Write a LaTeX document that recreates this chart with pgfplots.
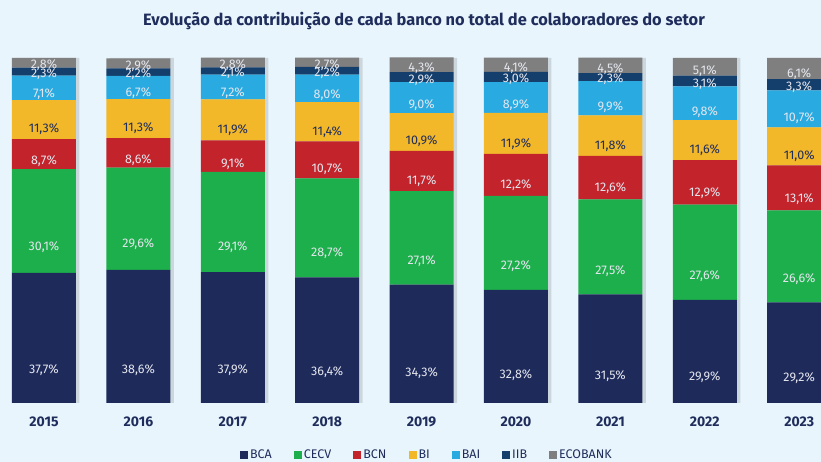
\documentclass[border=0pt]{standalone}
\usepackage{fontspec}
\setmainfont{Fira Sans}
\usepackage{pgfplots}
\usepackage{pgfplotstable}
\pgfplotsset{compat=1.18}

\definecolor{bgcol}{HTML}{E9F5FC}
\definecolor{navy}{HTML}{1F2D5C}
\definecolor{cBCA}{HTML}{1E2A5A}
\definecolor{cCECV}{HTML}{1DAF4B}
\definecolor{cBCN}{HTML}{C3232B}
\definecolor{cBI}{HTML}{F2B82A}
\definecolor{cBAI}{HTML}{29ABE2}
\definecolor{cIIB}{HTML}{143E6B}
\definecolor{cECO}{HTML}{7F7F7F}
\definecolor{lbl}{HTML}{E4E6EE}

% shares of each bank, in %
\pgfplotstableread{
x BCA CECV BCN BI BAI IIB ECO tot
0 37.7 30.1 8.7 11.3 7.1 2.3 2.8 100
1 38.6 29.6 8.6 11.3 6.7 2.2 2.9 100
2 37.9 29.1 9.1 11.9 7.2 2.1 2.8 100
3 36.4 28.7 10.7 11.4 8.0 2.2 2.7 100
4 34.3 27.1 11.7 10.9 9.0 2.9 4.3 100
5 32.8 27.2 12.2 11.9 8.9 3.0 4.1 100
6 31.5 27.5 12.6 11.8 9.9 2.3 4.5 100
7 29.9 27.6 12.9 11.6 9.8 3.1 5.1 100
8 29.2 26.6 13.1 11.0 10.7 3.3 6.1 100
}\data

\pgfplotsset{
  base/.style={at={(0pt,59pt)}, anchor=south west, scale only axis,
    width=821pt, height=348.45pt, xmin=-0.466, xmax=8.231, ymin=0, ymax=101,
    axis line style={draw=none}, ytick=\empty, major tick length=0pt,
    bar width=64pt},
  % the style gets applied twice, hence half of the half-segment shift
  seg/.style n args={2}{fill=#1, draw=none,
    point meta=explicit symbolic,
    nodes near coords={\pgfmathprintnumber[fixed,fixed zerofill,precision=1,use comma,assume math mode=true]{\pgfplotspointmeta}\%},
    every node near coord/.style={text=#2, anchor=center, inner sep=0pt,
      font=\fontsize{12.5}{13}\selectfont, yshift=-0.8625pt*\pgfplotspointmeta}},
}

\begin{document}
\begin{tikzpicture}[x=1pt,y=1pt]
\fill[bgcol] (0,0) rectangle (821,462);
\useasboundingbox (0,0) rectangle (821,462);
\node[font=\bfseries\fontsize{16.4}{18}\selectfont, text=navy] at (424,441)
  {Evolução da contribuição de cada banco no total de colaboradores do setor};

% soft shadow behind the bars
\begin{axis}[base, ybar, bar shift=3.5pt, xtick=\empty]
\addplot[fill=black, draw=none, opacity=0.12] table[x=x,y=tot]{\data};
\end{axis}

\begin{axis}[base, ybar stacked,
    xtick={0,...,8}, xticklabels={2015,2016,2017,2018,2019,2020,2021,2022,2023},
    xticklabel style={font=\bfseries\fontsize{14}{15}\selectfont, text=navy, yshift=-10pt},
    legend columns=-1,
    legend style={draw=none, fill=none, at={(0.52,-0.149)}, anchor=center,
      font=\fontsize{12.5}{14}\selectfont, text=navy,
      /tikz/every even column/.append style={column sep=20pt}},
    legend image code/.code={\fill[#1] (0pt,-4pt) rectangle (8pt,4pt);}]
\addplot[seg={cBCA}{lbl}] table[x=x,y=BCA,meta=BCA]{\data};
\addplot[seg={cCECV}{lbl}] table[x=x,y=CECV,meta=CECV]{\data};
\addplot[seg={cBCN}{lbl}] table[x=x,y=BCN,meta=BCN]{\data};
\addplot[seg={cBI}{navy}] table[x=x,y=BI,meta=BI]{\data};
\addplot[seg={cBAI}{lbl}] table[x=x,y=BAI,meta=BAI]{\data};
\addplot[seg={cIIB}{lbl}] table[x=x,y=IIB,meta=IIB]{\data};
\addplot[seg={cECO}{lbl}] table[x=x,y=ECO,meta=ECO]{\data};
\legend{BCA,CECV,BCN,BI,BAI,IIB,ECOBANK}
\end{axis}
\end{tikzpicture}
\end{document}
